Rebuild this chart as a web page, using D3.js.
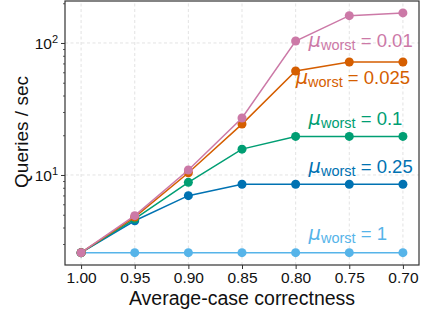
<!DOCTYPE html>
<html>
<head>
<meta charset="utf-8">
<script src="https://cdn.jsdelivr.net/npm/d3@7"></script>
<style>
  body { margin: 0; background: #fff; }
  svg { display: block; font-family: "Liberation Sans", Arial, sans-serif; }
</style>
</head>
<body>
<svg id="chart"></svg>
<script>
// data
const correctness = [1.00, 0.95, 0.90, 0.85, 0.80, 0.75, 0.70]
const mu1   = [2.58, 2.58, 2.58, 2.58, 2.58, 2.58, 2.58]
const mu025 = [2.58, 4.5, 6.97, 8.5, 8.5, 8.5, 8.5]
const mu01  = [2.58, 4.65, 8.8, 15.7, 19.6, 19.6, 19.6]
const mu0025 = [2.58, 4.8, 10.4, 24.3, 61.4, 71.8, 71.8]
const mu001 = [2.58, 4.92, 10.9, 27.0, 103.5, 161, 169]
const muLabels = ['1', '0.25', '0.1', '0.025', '0.01']
const xTicks = [1.00, 0.95, 0.90, 0.85, 0.80, 0.75, 0.70]

const series = [
    {name: muLabels[0], values: mu1,    color: '#56B4E9', lx: 0.788, ly: 3.22},
    {name: muLabels[1], values: mu025,  color: '#0072B2', lx: 0.788, ly: 10.3},
    {name: muLabels[2], values: mu01,   color: '#009E73', lx: 0.788, ly: 23.9},
    {name: muLabels[3], values: mu0025, color: '#D55E00', lx: 0.800, ly: 48.9},
    {name: muLabels[4], values: mu001,  color: '#CC79A7', lx: 0.788, ly: 93.7},
]

// setting up container
    const width = 427
    const height = 313
    const margin = {left: 65, right: 8, top: 1, bottom: 48}
    const svg = d3.select('#chart')
        .attr('width', width)
        .attr('height', height)
    svg.append('rect').attr('width', width).attr('height', height).attr('fill', 'white')

// scales
    const xScale = d3.scaleLinear()
        .domain([1.015, 0.685])
        .range([margin.left, width - margin.right])
    const yScale = d3.scaleLog()
        .domain([2.08, 208])
        .range([height - margin.bottom, margin.top])

    const x0 = margin.left, x1 = width - margin.right
    const y0 = height - margin.bottom, y1 = margin.top

// grid lines
    svg.append('g')
        .attr('class', 'grid-x')
        .selectAll('line')
        .data(xTicks)
        .enter().append('line')
            .attr('x1', d => xScale(d)).attr('x2', d => xScale(d))
            .attr('y1', y0).attr('y2', y1)
            .attr('stroke', '#dcdcdc').attr('stroke-width', 0.8)
            .attr('stroke-dasharray', '3,2.5')
    svg.append('g')
        .attr('class', 'grid-y')
        .selectAll('line')
        .data([10, 100])
        .enter().append('line')
            .attr('x1', x0).attr('x2', x1)
            .attr('y1', d => yScale(d)).attr('y2', d => yScale(d))
            .attr('stroke', '#dcdcdc').attr('stroke-width', 0.8)
            .attr('stroke-dasharray', '3,2.5')

// axes
    const xAxis = d3.axisBottom(xScale)
        .tickValues(xTicks)
        .tickFormat(d3.format('.2f'))
        .tickSize(4)
        .tickPadding(3)
    const gx = svg.append('g')
        .attr('transform', `translate(0, ${y0})`)
        .call(xAxis)
    gx.select('.domain').remove()
    gx.selectAll('line').attr('stroke', '#333').attr('stroke-width', 1)
    gx.selectAll('text')
        .attr('fill', '#111')
        .style('font-size', '15.5px')

    const minorTicks = [3, 4, 5, 6, 7, 8, 9, 20, 30, 40, 50, 60, 70, 80, 90, 200]
    const yMinor = d3.axisLeft(yScale).tickValues(minorTicks).tickSize(2).tickFormat('')
    const gyMinor = svg.append('g').attr('transform', `translate(${x0}, 0)`).call(yMinor)
    gyMinor.select('.domain').remove()
    gyMinor.selectAll('line').attr('stroke', '#333').attr('stroke-width', 0.8)

    const yAxis = d3.axisLeft(yScale).tickValues([10, 100]).tickSize(4).tickFormat('')
    const gy = svg.append('g').attr('transform', `translate(${x0}, 0)`).call(yAxis)
    gy.select('.domain').remove()
    gy.selectAll('line').attr('stroke', '#333').attr('stroke-width', 1)
    gy.selectAll('.tick').append('text')
        .attr('x', -7)
        .attr('y', 6)
        .attr('text-anchor', 'end')
        .attr('fill', '#111')
        .style('font-size', '15.5px')
        .call(t => {
            t.append('tspan').text('10')
            t.append('tspan').attr('dy', -6).style('font-size', '11px').text(d => Math.log10(d))
        })

// frame
    svg.append('rect')
        .attr('x', x0).attr('y', y1)
        .attr('width', x1 - x0).attr('height', y0 - y1)
        .attr('fill', 'none')
        .attr('stroke', '#333')
        .attr('stroke-width', 1.2)

// lines and points
    const line = d3.line()
        .x((d, i) => xScale(correctness[i]))
        .y(d => yScale(d))

    series.forEach(s => {
        const g = svg.append('g')
        g.append('path')
            .datum(s.values)
            .attr('d', line)
            .attr('fill', 'none')
            .attr('stroke', s.color)
            .attr('stroke-width', 1.5)
        g.selectAll('circle')
            .data(s.values)
            .enter().append('circle')
                .attr('cx', (d, i) => xScale(correctness[i]))
                .attr('cy', d => yScale(d))
                .attr('r', 4.5)
                .attr('fill', s.color)
    })

// labels
    series.forEach(s => {
        const t = svg.append('text')
            .attr('x', xScale(s.lx))
            .attr('y', yScale(s.ly))
            .attr('fill', s.color)
            .style('font-size', '18.5px')
        t.append('tspan').style('font-style', 'italic').style('font-family', 'DejaVu Sans').style('font-size', '19.5px').text('μ')
        t.append('tspan').attr('dy', 3).style('font-size', '14.5px').text('worst')
        t.append('tspan').attr('dy', -3).text(' = ' + s.name)
    })

// axis labels
    svg.append('text')
        .attr('x', (x0 + x1) / 2)
        .attr('y', 305)
        .attr('text-anchor', 'middle')
        .attr('fill', '#111')
        .style('font-size', '19.5px')
        .text('Average-case correctness')
    svg.append('text')
        .attr('transform', `translate(28, ${(y0 + y1) / 2 - 1}) rotate(-90)`)
        .attr('text-anchor', 'middle')
        .attr('fill', '#111')
        .style('font-size', '19px')
        .text('Queries / sec')
</script>
</body>
</html>
